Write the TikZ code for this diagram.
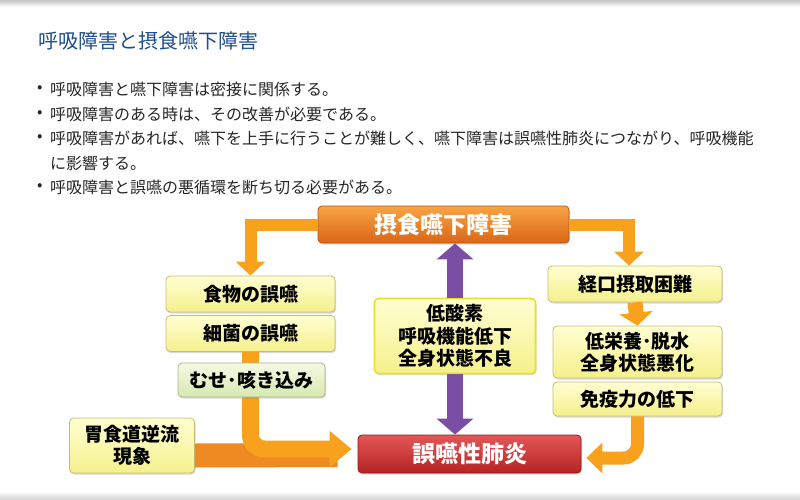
\documentclass[tikz,border=0pt]{standalone}
\usepackage{fontspec}
\setmainfont{Noto Sans CJK JP}
\usetikzlibrary{arrows.meta,shadows}
\definecolor{titleblue}{HTML}{1E4D8C}
\definecolor{bodytext}{HTML}{262626}
\definecolor{ytop}{HTML}{FFFFD2}
\definecolor{ybot}{HTML}{F5F08C}
\definecolor{yline}{HTML}{C4BD78}
\definecolor{hline}{HTML}{E8E222}
\definecolor{gtop}{HTML}{F5FAE4}
\definecolor{gbot}{HTML}{D6E8B0}
\definecolor{gline}{HTML}{A6B588}
\definecolor{otop}{HTML}{F8A445}
\definecolor{obot}{HTML}{DB6616}
\definecolor{oline}{HTML}{B5531A}
\definecolor{rtop}{HTML}{E55656}
\definecolor{rbot}{HTML}{B52424}
\definecolor{rline}{HTML}{8C1E1E}
\definecolor{arrorange}{HTML}{F8A11C}
\definecolor{arrdark}{HTML}{EF8A22}
\definecolor{arrpurple}{HTML}{7A4FA3}
\begin{document}
\begin{tikzpicture}[x=1pt,y=-1pt,
    box/.style={rounded corners=4pt, line width=0.8pt, inner sep=0pt, align=center,
      font=\fontsize{19}{22.5}\selectfont\bfseries, text=black,
      drop shadow={opacity=0.3, shadow xshift=1pt, shadow yshift=-1.5pt}},
    ybox/.style={box, draw=yline, top color=ytop, bottom color=ybot},
    hbox/.style={box, draw=hline, line width=1.6pt, top color=ytop, bottom color=ybot},
    gbox/.style={box, draw=gline, top color=gtop, bottom color=gbot},
    obox/.style={box, draw=oline, top color=otop, bottom color=obot, text=white,
      font=\fontsize{23}{26}\selectfont\bfseries},
    rbox/.style={box, draw=rline, top color=rtop, bottom color=rbot, text=white,
      font=\fontsize{23}{26}\selectfont\bfseries},
    oarr/.style={draw=arrorange, line width=12pt, line join=miter,
      -{Triangle[width=29pt,length=14pt]}},
    parr/.style={draw=arrpurple, line width=16pt, -{Triangle[width=36pt,length=16pt]}},
    bullet/.style={anchor=west, inner sep=0pt, text=bodytext, font=\fontsize{16}{20}\selectfont}]
  \useasboundingbox (0,0) rectangle (800,500);
  % page edges
  \shade[top color=gray!45, bottom color=white] (0,0) rectangle (800,7);
  \shade[top color=white, bottom color=gray!35] (0,491) rectangle (800,500);
  % heading and notes
  \node[anchor=west, inner sep=0pt, text=titleblue, font=\fontsize{20}{24}\selectfont]
    (title) at (38,41) {呼吸障害と摂食嚥下障害};
  \foreach \n/\y/\t in {1/89/呼吸障害と嚥下障害は密接に関係する。,
      2/114/呼吸障害のある時は、その改善が必要である。,
      3/138/呼吸障害があれば、嚥下を上手に行うことが難しく、嚥下障害は誤嚥性肺炎につながり、呼吸機能,
      5/187/呼吸障害と誤嚥の悪循環を断ち切る必要がある。}{
    \node[bullet] (dot\n) at (37,\y) {•};
    \node[bullet] (note\n) at (50,\y) {\t};
  }
  \node[bullet] (note4) at (50,163) {に影響する。};
  % boxes
  \node[obox, minimum width=251pt, minimum height=37pt] (swallow) at (443.5,224.5) {摂食嚥下障害};
  \node[ybox, minimum width=169pt, minimum height=36pt] (food) at (250.5,294) {食物の誤嚥};
  \node[ybox, minimum width=169pt, minimum height=36pt] (germ) at (250.5,333.5) {細菌の誤嚥};
  \node[ybox, minimum width=125pt, minimum height=55pt] (reflux) at (132,445.5) {胃食道逆流\\現象};
  \node[hbox, minimum width=161pt, minimum height=75pt] (hypoxia) at (455,336) {低酸素\\呼吸機能低下\\全身状態不良};
  \node[ybox, minimum width=174pt, minimum height=36pt] (oral) at (635,284) {経口摂取困難};
  \node[ybox, minimum width=169pt, minimum height=52pt] (nutri) at (637.5,352) {低栄養･脱水\\全身状態悪化};
  \node[ybox, minimum width=169pt, minimum height=34pt] (immune) at (637.5,399) {免疫力の低下};
  \node[rbox, minimum width=223pt, minimum height=38pt] (pneumonia) at (469.5,454) {誤嚥性肺炎};
  % connectors
  \draw[oarr] (swallow.west) -| (food.north);
  \draw[oarr] (swallow.east) -| ([xshift=-6pt]oral.north);
  \draw[oarr, line width=15pt, -{Triangle[width=33pt,length=13pt]}] (oral.south) -- (nutri.north);
  \draw[draw=arrdark, line width=24pt, shorten >=20pt] ([yshift=-10pt]reflux.east) -- ([yshift=-1pt]pneumonia.west);
  \draw[oarr, line width=17pt, rounded corners=14pt, shorten >=6pt, -{Triangle[width=35pt,length=22pt]}]
    (germ.south) |- ([yshift=5pt]pneumonia.west);
  \draw[oarr, line width=13pt, rounded corners=14pt, shorten >=5pt, -{Triangle[width=30pt,length=16pt]}]
    (immune.south) |- ([yshift=-4pt]pneumonia.east);
  \draw[parr] (hypoxia.north) -- (hypoxia.north |- swallow.south);
  \draw[parr] (hypoxia.south) -- (hypoxia.south |- pneumonia.north);
  \node[gbox, minimum width=147pt, minimum height=34pt] (choke) at (251.5,380) {むせ･咳き込み};
\end{tikzpicture}
\end{document}
